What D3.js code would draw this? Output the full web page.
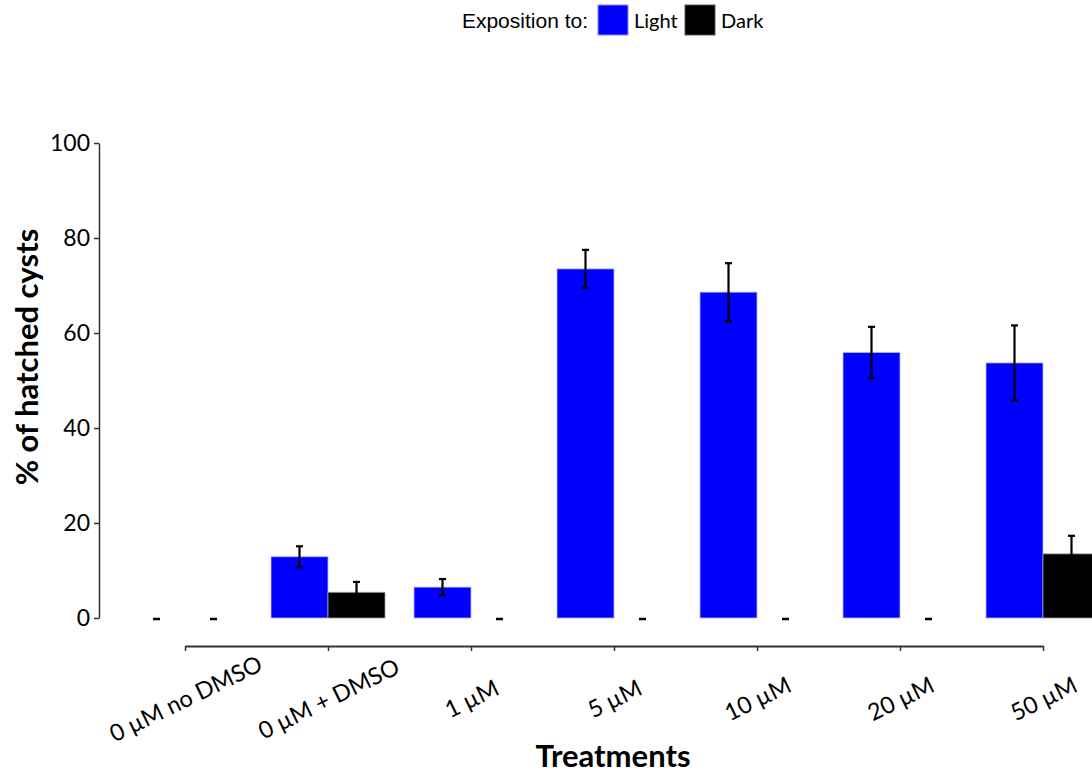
<!DOCTYPE html>
<html>
<head>
<meta charset="utf-8">
<script src="https://cdn.jsdelivr.net/npm/d3@7"></script>
<style>
  html, body { margin: 0; padding: 0; background: #fff; }
  svg { display: block; }
</style>
</head>
<body>
<svg id="chart" width="1092" height="775"></svg>
<script>
const categories = ["0 µM no DMSO", "0 µM + DMSO", "1 µM", "5 µM", "10 µM", "20 µM", "50 µM"];
const seriesNames = ["Light", "Dark"];
const lightValues = [0, 12.9, 6.5, 73.5, 68.6, 55.9, 53.7];
const lightErrors = [0, 2.2, 1.7, 4.0, 6.1, 5.4, 7.9];
const darkValues = [0, 5.4, 0, 0, 0, 0, 13.5];
const darkErrors = [0, 2.2, 0, 0, 0, 0, 3.8];
const yTicks = [0, 20, 40, 60, 80, 100];
const colors = ["#0000FF", "#000000"];

const svg = d3.select("#chart");
const FONT = "Lato, 'Open Sans', sans-serif";

// scales
const x = d3.scalePoint().domain(categories).range([185, 1043]);
const groupW = 114;
const xs = d3.scaleBand().domain(seriesNames).range([-groupW / 2, groupW / 2]).padding(0);
const y = d3.scaleLinear().domain([0, 100]).range([618, 143]);

const rows = [];
categories.forEach((c, i) => {
  rows.push({ cat: c, s: "Light", v: lightValues[i], e: lightErrors[i] });
  rows.push({ cat: c, s: "Dark", v: darkValues[i], e: darkErrors[i] });
});

// bars
svg.append("g").selectAll("rect").data(rows).join("rect")
  .attr("x", d => x(d.cat) + xs(d.s))
  .attr("y", d => y(d.v))
  .attr("width", xs.bandwidth())
  .attr("height", d => y(0) - y(d.v))
  .attr("fill", d => colors[seriesNames.indexOf(d.s)])
  .attr("stroke", d => d.s === "Light" ? "#b8b8ff" : "#999")
  .attr("stroke-opacity", d => d.v === 0 ? 0.25 : 0.8)
  .attr("stroke-width", 1);

// error bars
const eg = svg.append("g").attr("stroke", "#000").attr("stroke-width", 2.2).attr("fill", "none");
const capW = 7;
rows.forEach(d => {
  const cx = x(d.cat) + xs(d.s) + xs.bandwidth() / 2;
  const y1 = y(d.v + d.e), y2 = y(Math.max(0, d.v - d.e));
  if (d.e > 0) {
    eg.append("line").attr("x1", cx).attr("x2", cx).attr("y1", y1).attr("y2", y2);
    eg.append("line").attr("x1", cx - capW / 2).attr("x2", cx + capW / 2).attr("y1", y1).attr("y2", y1);
    eg.append("line").attr("x1", cx - capW / 2).attr("x2", cx + capW / 2).attr("y1", y2).attr("y2", y2);
  } else {
    eg.append("line").attr("x1", cx - capW / 2).attr("x2", cx + capW / 2)
      .attr("y1", y(d.v) + 1).attr("y2", y(d.v) + 1).attr("stroke-width", 2.5);
  }
});

// y axis
const yAxis = svg.append("g").attr("transform", "translate(99,0)")
  .call(d3.axisLeft(y).tickValues(yTicks).tickSize(5).tickSizeOuter(0).tickPadding(4));
yAxis.select(".domain").attr("stroke", "#333").attr("stroke-width", 1.5);
yAxis.selectAll(".tick line").attr("stroke", "#333").attr("stroke-width", 1.5);
yAxis.selectAll(".tick text").attr("font-family", FONT).attr("font-size", 23).attr("fill", "#000");

// x axis
const xAxis = svg.append("g").attr("transform", "translate(0,646)")
  .call(d3.axisBottom(x).tickSize(5).tickSizeOuter(0));
xAxis.select(".domain").attr("stroke", "#333").attr("stroke-width", 2);
xAxis.selectAll(".tick line").attr("stroke", "#333").attr("stroke-width", 1.5);
xAxis.selectAll(".tick text")
  .attr("font-family", FONT).attr("font-size", 23.5).attr("fill", "#000")
  .attr("text-anchor", "middle")
  .attr("dominant-baseline", "central")
  .attr("dy", null)
  .attr("y", 0)
  .attr("transform", "translate(0,52) rotate(-26)");

// axis titles
svg.append("text")
  .attr("x", 613).attr("y", 767)
  .attr("text-anchor", "middle")
  .attr("font-family", FONT).attr("font-weight", "bold").attr("font-size", 31)
  .text("Treatments");

svg.append("text")
  .attr("transform", "translate(38,357) rotate(-90)")
  .attr("text-anchor", "middle")
  .attr("font-family", FONT).attr("font-weight", "bold").attr("font-size", 31)
  .text("% of hatched cysts");

// legend
const lg = svg.append("g");
lg.append("text").attr("x", 588).attr("y", 28).attr("text-anchor", "end")
  .attr("font-family", "'Liberation Sans', Arial, sans-serif").attr("font-size", 21)
  .text("Exposition to:");
const legX = [598, 685];
seriesNames.forEach((s, i) => {
  lg.append("rect").attr("x", legX[i]).attr("y", 5).attr("width", 30).attr("height", 30)
    .attr("fill", colors[i]).attr("stroke", i === 0 ? "#8888ff" : "#555").attr("stroke-width", 1);
  lg.append("text").attr("x", legX[i] + 36).attr("y", 28)
    .attr("font-family", FONT).attr("font-size", 20).text(s);
});
</script>
</body>
</html>
